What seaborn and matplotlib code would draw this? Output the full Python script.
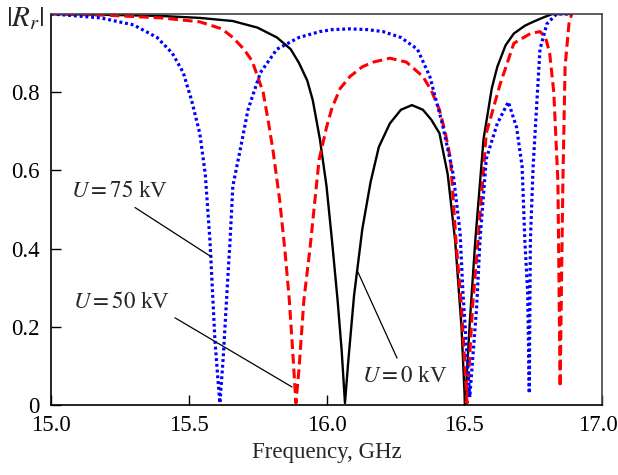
import matplotlib
matplotlib.use("Agg")
import matplotlib.pyplot as plt
import matplotlib.transforms as mtransforms
import seaborn as sns

# ---- data ----
x0 = [15.00, 15.20, 15.40, 15.54, 15.66, 15.75, 15.82, 15.87, 15.90, 15.93, 15.95, 15.976,
      16.00, 16.02, 16.04, 16.055, 16.067, 16.08, 16.10, 16.13, 16.16, 16.19, 16.23, 16.27,
      16.31, 16.35, 16.38, 16.41, 16.44, 16.467, 16.49, 16.503, 16.52, 16.54, 16.57, 16.60,
      16.62, 16.65, 16.68, 16.72, 16.75, 16.79, 16.82, 16.89]
y0 = [1.0, 0.998, 0.995, 0.99, 0.982, 0.965, 0.94, 0.91, 0.875, 0.83, 0.78, 0.68,
      0.56, 0.42, 0.27, 0.14, 0.005, 0.12, 0.28, 0.45, 0.57, 0.66, 0.72, 0.755,
      0.767, 0.755, 0.73, 0.695, 0.59, 0.42, 0.20, 0.0, 0.21, 0.42, 0.68, 0.81,
      0.865, 0.92, 0.95, 0.97, 0.98, 0.992, 1.0, 1.0]

x50 = [15.00, 15.20, 15.40, 15.54, 15.62, 15.66, 15.70, 15.73, 15.77, 15.79, 15.806, 15.83,
       15.849, 15.865, 15.878, 15.889, 15.90, 15.918, 15.94, 15.973, 16.00,
       16.02, 16.05, 16.085, 16.13, 16.17, 16.23, 16.29, 16.35, 16.38, 16.41, 16.43, 16.45,
       16.47, 16.49, 16.51, 16.53, 16.55, 16.58, 16.63, 16.68, 16.74, 16.775, 16.795, 16.81,
       16.825, 16.84, 16.848, 16.858, 16.866, 16.88, 16.89]
y50 = [1.0, 0.997, 0.99, 0.98, 0.962, 0.94, 0.91, 0.88, 0.80, 0.72, 0.65, 0.524,
       0.396, 0.269, 0.13, 0.005, 0.09, 0.269, 0.40, 0.627, 0.71,
       0.76, 0.81, 0.84, 0.865, 0.877, 0.887, 0.877, 0.84, 0.805, 0.755, 0.70, 0.63,
       0.42, 0.25, 0.005, 0.25, 0.42, 0.695, 0.82, 0.925, 0.95, 0.955, 0.94, 0.90,
       0.80, 0.57, 0.046, 0.57, 0.865, 0.975, 1.0]

x75 = [15.00, 15.06, 15.18, 15.30, 15.385, 15.44, 15.48, 15.51, 15.54, 15.56, 15.577, 15.595,
       15.606, 15.613, 15.625, 15.643, 15.65, 15.66, 15.686, 15.715, 15.76, 15.82, 15.90,
       15.976, 16.02, 16.085, 16.15, 16.205, 16.27, 16.33, 16.375, 16.42, 16.46, 16.485,
       16.495, 16.52, 16.545, 16.557, 16.58, 16.62, 16.66, 16.69, 16.71, 16.72, 16.73,
       16.736, 16.74, 16.75, 16.764, 16.775, 16.80, 16.835, 16.89]
y75 = [1.0, 0.997, 0.99, 0.972, 0.94, 0.90, 0.85, 0.78, 0.695, 0.59, 0.42, 0.166,
       0.064, 0.005, 0.12, 0.34, 0.42, 0.56, 0.65, 0.755, 0.85, 0.91, 0.94,
       0.955, 0.96, 0.962, 0.96, 0.955, 0.94, 0.91, 0.84, 0.72, 0.59, 0.44,
       0.29, 0.02, 0.25, 0.42, 0.63, 0.72, 0.775, 0.71, 0.61, 0.42, 0.29,
       0.03, 0.42, 0.61, 0.78, 0.91, 0.975, 1.0, 1.0]

x_ticks = [15.0, 15.5, 16.0, 16.5, 17.0]
x_tick_labels = ["15.0", "15.5", "16.0", "16.5", "17.0"]
y_ticks = [0, 0.2, 0.4, 0.6, 0.8]
y_tick_labels = ["0", "0.2", "0.4", "0.6", "0.8"]

# ---- style ----
sns.set_style("ticks")
plt.rcParams["font.family"] = ["Liberation Serif", "DejaVu Serif"]
plt.rcParams["mathtext.fontset"] = "stix"

FS = 16.5

fig = plt.figure(figsize=(6.18, 4.75), dpi=100)
ax = fig.add_axes([51 / 618, 1 - 405 / 475, (602 - 51) / 618, (405 - 14) / 475])

sns.lineplot(x=x0, y=y0, ax=ax, color="black", lw=1.7, sort=False, estimator=None)
sns.lineplot(x=x50, y=y50, ax=ax, color="#ff0000", lw=2.2, sort=False, estimator=None,
             linestyle=(0, (3.2, 1.6)))
sns.lineplot(x=x75, y=y75, ax=ax, color="#0000ff", lw=2.3, sort=False, estimator=None,
             linestyle=(0, (0.9, 0.9)))

ax.set_xlim(15.0, 17.0)
ax.set_ylim(0, 1.0)
ax.set_xticks(x_ticks)
ax.set_xticklabels(x_tick_labels)
ax.set_yticks(y_ticks)
ax.set_yticklabels(y_tick_labels)
ax.tick_params(axis="both", direction="in", length=7, width=1.0, labelsize=FS,
               top=False, right=False, colors="black")
ax.tick_params(axis="x", pad=7.5)
ax.tick_params(axis="y", pad=8)

# shift the last x tick label slightly left so it fits in the figure
last = ax.get_xticklabels()[-1]
last.set_transform(last.get_transform() +
                   mtransforms.ScaledTranslation(-4 / 100, 0, fig.dpi_scale_trans))

for side in ["left", "bottom"]:
    ax.spines[side].set_color("black")
    ax.spines[side].set_linewidth(1.2)
for side in ["top", "right"]:
    ax.spines[side].set_color("#444444")
    ax.spines[side].set_linewidth(1.2)

ax.set_xlabel("Frequency, GHz", fontsize=FS, labelpad=4)
ax.set_ylabel("")
fig.text(25 / 618, 1 - 19 / 475, r"$|R_r|$", fontsize=21, ha="center", va="center")

line_kw = dict(arrowstyle="-", color="black", lw=0.9, shrinkA=0, shrinkB=0)
ax.annotate(r"$U = 75$ kV", xy=(15.584, 0.378), xytext=(15.074, 0.545),
            fontsize=FS, va="center", ha="left")
ax.annotate("", xy=(15.584, 0.378), xytext=(15.305, 0.505), arrowprops=line_kw)
ax.annotate(r"$U = 50$ kV", xy=(15.875, 0.046), xytext=(15.08, 0.262),
            fontsize=FS, va="center", ha="left")
ax.annotate("", xy=(15.875, 0.046), xytext=(15.45, 0.223), arrowprops=line_kw)
ax.annotate(r"$U = 0$ kV", xy=(16.256, 0.12), xytext=(16.13, 0.072),
            fontsize=FS, va="center", ha="left")
ax.annotate("", xy=(16.114, 0.34), xytext=(16.256, 0.12), arrowprops=line_kw)

fig.savefig("out.png", dpi=100)
